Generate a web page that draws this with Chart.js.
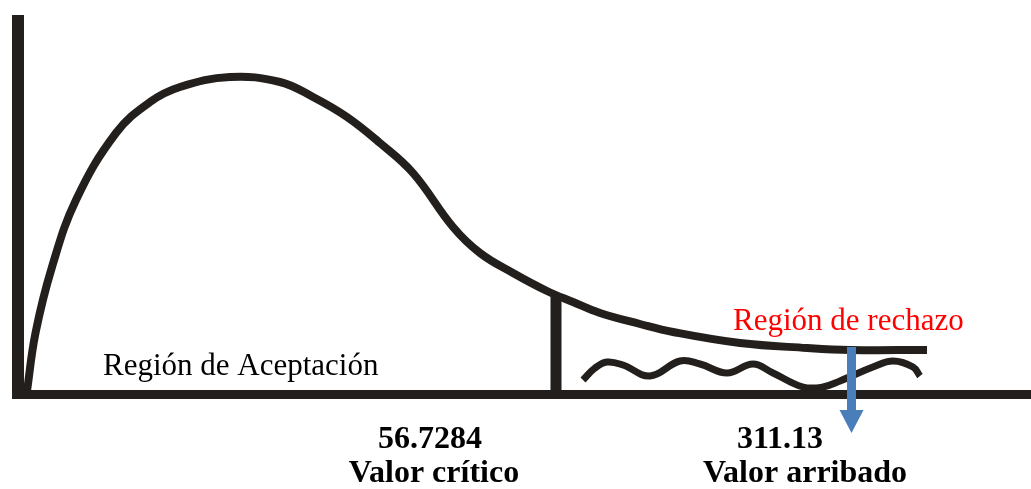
<!DOCTYPE html>
<html>
<head>
<meta charset="utf-8">
<script src="https://cdn.jsdelivr.net/npm/chart.js@4.4.1/dist/chart.umd.min.js"></script>
<style>
  html, body { margin: 0; padding: 0; background: #ffffff; overflow: hidden; }
  canvas { display: block; }
</style>
</head>
<body>
<canvas id="c" width="1031" height="489"></canvas>
<script>
// ---- Data (arbitrary horizontal units, height above axis) ----
const curveX = [9, 17.5, 34, 58, 98, 132, 162, 212, 262, 295, 329, 362, 395, 435, 462, 495, 529, 555, 582, 622, 655, 722, 789, 832, 909];
const curveY = [3, 61, 127, 194, 261, 292, 307, 317, 312, 297, 277, 251, 221, 167, 141, 121, 103, 92, 81, 70, 62, 51, 46, 44, 44];

const squiggleX = [565, 577, 589, 605, 632, 662, 682, 709, 735, 755, 785, 805, 822, 855, 875, 895, 902];
const squiggleY = [14, 26, 32, 29, 18, 33, 30, 21, 30, 21, 7, 7, 13, 27, 33, 27, 18];

const criticalX = 538;          // position of the critical value
const criticalTop = 97;         // height of the curve there
const observedX = 833.5;        // position of the observed value arrow
const arrowTop = 47;
const arrowShaftEnd = -16;
const arrowTip = -39;

const acceptLabel = "Región de Aceptación";
const rejectLabel = "Región de rechazo";
const criticalValueLabel = "56.7284";
const criticalNameLabel = "Valor crítico";
const observedValueLabel = "311.13";
const observedNameLabel = "Valor arribado";

const INK = '#231f1c';
const BLUE = '#4a7ebb';

const toPts = (xs, ys) => xs.map((x, i) => ({ x: x, y: ys[i] }));

const overlayPlugin = {
  id: 'overlay',
  afterDatasetsDraw(chart) {
    const ctx = chart.ctx;
    const xs = chart.scales.x, ys = chart.scales.y;
    // arrow head at the observed value
    const px = xs.getPixelForValue(observedX);
    const baseY = ys.getPixelForValue(arrowShaftEnd);
    const tipY = ys.getPixelForValue(arrowTip);
    ctx.save();
    ctx.fillStyle = BLUE;
    ctx.beginPath();
    ctx.moveTo(px - 12, baseY);
    ctx.lineTo(px + 12, baseY);
    ctx.lineTo(px, tipY);
    ctx.closePath();
    ctx.fill();
    ctx.restore();
  },
  afterDraw(chart) {
    const ctx = chart.ctx;
    ctx.save();
    ctx.textBaseline = 'alphabetic';
    ctx.font = '31px "Liberation Serif", "Times New Roman", serif';
    ctx.fillStyle = '#000000';
    ctx.textAlign = 'left';
    ctx.fillText(acceptLabel, 103, 375);
    ctx.fillStyle = '#ff0000';
    ctx.fillText(rejectLabel, 733, 330);

    ctx.fillStyle = '#000000';
    ctx.font = 'bold 32px "Liberation Serif", "Times New Roman", serif';
    ctx.textAlign = 'center';
    ctx.fillText(criticalValueLabel, 430, 448);
    ctx.fillText(criticalNameLabel, 434, 482);
    ctx.fillText(observedValueLabel, 780, 448);
    ctx.fillText(observedNameLabel, 805, 482);
    ctx.restore();
  }
};

new Chart(document.getElementById('c'), {
  type: 'scatter',
  data: {
    datasets: [
      { // arrow shaft
        data: [{ x: observedX, y: arrowTop }, { x: observedX, y: arrowShaftEnd }],
        showLine: true,
        borderColor: BLUE,
        borderWidth: 9,
        pointRadius: 0,
        clip: false
      },
      { // squiggle in rejection region
        data: toPts(squiggleX, squiggleY),
        showLine: true,
        borderColor: INK,
        borderWidth: 7,
        pointRadius: 0,
        tension: 0.4,
        borderCapStyle: 'butt',
        clip: false
      },
      { // critical value line
        data: [{ x: criticalX, y: 0 }, { x: criticalX, y: criticalTop }],
        showLine: true,
        borderColor: INK,
        borderWidth: 11,
        pointRadius: 0,
        clip: false
      },
      { // distribution curve
        data: toPts(curveX, curveY),
        showLine: true,
        borderColor: INK,
        borderWidth: 8,
        pointRadius: 0,
        tension: 0.4,
        clip: false
      }
    ]
  },
  options: {
    responsive: false,
    animation: false,
    events: [],
    layout: { padding: { left: 18, top: 21, right: 0, bottom: 95 } },
    plugins: { legend: { display: false }, tooltip: { enabled: false } },
    scales: {
      x: {
        type: 'linear', min: 0, max: 1013,
        grid: { display: false, drawTicks: false, lineWidth: 1 },
        ticks: { display: false },
        border: { display: true, color: INK, width: 9 }
      },
      y: {
        type: 'linear', min: 0, max: 373,
        grid: { display: false, drawTicks: false, lineWidth: 9 },
        ticks: { display: false },
        border: { display: true, color: INK, width: 12 }
      }
    }
  },
  plugins: [overlayPlugin]
});
</script>
</body>
</html>
